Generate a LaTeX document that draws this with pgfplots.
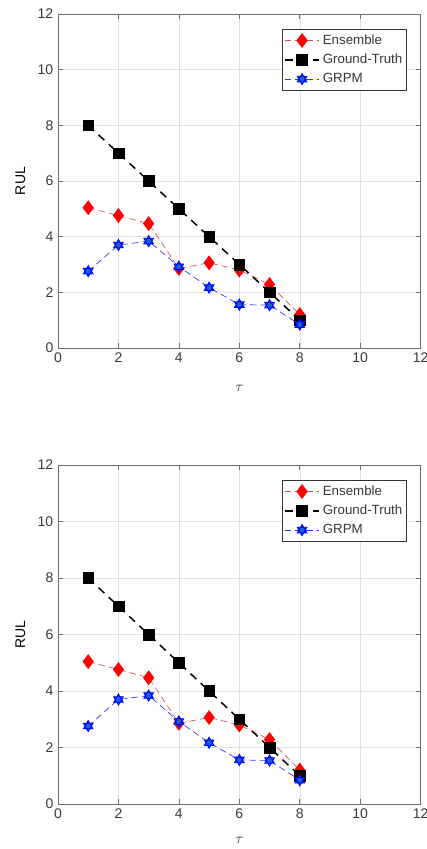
\documentclass[border=0pt]{standalone}
\usepackage{pgfplots}
\pgfplotsset{compat=1.18}
\usepackage{pgfplotstable}
\usepackage{fontspec}
\setmainfont{Liberation Sans}
\usetikzlibrary{plotmarks}

\definecolor{ensline}{RGB}{205,85,95}
\definecolor{grpmfill}{RGB}{20,100,200}
\definecolor{axgray}{RGB}{110,110,110}
\definecolor{txtgray}{RGB}{55,55,55}

% six-pointed star (two triangles), filled
\pgfdeclareplotmark{hexagram}{%
  \pgfpathmoveto{\pgfqpointpolar{90}{\pgfplotmarksize}}%
  \pgfpathlineto{\pgfqpointpolar{210}{\pgfplotmarksize}}%
  \pgfpathlineto{\pgfqpointpolar{330}{\pgfplotmarksize}}%
  \pgfpathclose
  \pgfpathmoveto{\pgfqpointpolar{270}{\pgfplotmarksize}}%
  \pgfpathlineto{\pgfqpointpolar{30}{\pgfplotmarksize}}%
  \pgfpathlineto{\pgfqpointpolar{150}{\pgfplotmarksize}}%
  \pgfpathclose
  \pgfusepathqfillstroke
}

\pgfplotstableread{
tau ens  gt grpm
1   5.04 8  2.76
2   4.76 7  3.70
3   4.47 6  3.84
4   2.86 5  2.92
5   3.06 4  2.17
6   2.80 3  1.56
7   2.28 2  1.54
8   1.20 1  0.84
}\rultable

\pgfplotsset{
  rulaxis/.style={
    scale only axis, width=272pt,
    xmin=0, xmax=12, ymin=0, ymax=12,
    xtick={0,2,...,12}, ytick={0,2,...,12},
    grid=major,
    major grid style={line width=0.4pt, black!12},
    axis line style={axgray, line width=0.6pt},
    tick style={axgray, line width=0.5pt},
    tick align=inside,
    major tick length=3.5pt,
    ticklabel style={font=\fontsize{10.5}{12}\selectfont, text=txtgray},
    /pgf/number format/assume math mode=true,
    xlabel={$\tau$},
    ylabel={RUL},
    xlabel style={at={(axis description cs:0.5,-0.122)}, anchor=center, text=txtgray, font=\fontsize{11}{12}\selectfont},
    ylabel style={at={(axis description cs:-0.104,0.5)}, anchor=center, text=black, font=\fontsize{10.5}{12}\selectfont},
    legend style={at={(1,1)}, anchor=north east, xshift=-10.5pt, yshift=-11.25pt,
      draw=black!80, line width=0.5pt, fill=white,
      font=\fontsize{10}{12}\selectfont, text=txtgray,
      inner xsep=1pt, inner ysep=2pt, row sep=1.8pt, nodes={inner sep=2pt}},
    legend cell align=left,
    legend image code/.code={\draw[mark repeat=2,mark phase=2,##1] plot coordinates {(0pt,0pt)(13pt,0pt)(26pt,0pt)};},
  },
  ensstyle/.style={ensline, line width=0.5pt, dash pattern=on 5pt off 3pt, mark=diamond*, mark size=5.25pt,
    mark options={solid, fill=red, draw=red, line width=0.4pt}},
  gtstyle/.style={black, line width=1.1pt, dash pattern=on 6pt off 4.5pt, mark=square*, mark size=4pt,
    mark options={solid, fill=black, line width=0.4pt}},
  grpmstyle/.style={blue!80, line width=0.5pt, dash pattern=on 5pt off 3pt, mark=hexagram, mark size=4.2pt,
    mark options={solid, fill=grpmfill, draw=blue, line width=0.6pt}},
}

\begin{document}
\begin{tikzpicture}
\begin{axis}[rulaxis, height=250.5pt, at={(43.5pt,-261pt)}, anchor=south west]
\addplot[ensstyle] table[x=tau,y=ens]{\rultable};
\addplot[gtstyle] table[x=tau,y=gt]{\rultable};
\addplot[grpmstyle] table[x=tau,y=grpm]{\rultable};
\legend{Ensemble, Ground-Truth, GRPM}
\end{axis}

\begin{axis}[rulaxis, height=254.25pt, at={(43.5pt,-603pt)}, anchor=south west,
  xlabel style={at={(axis description cs:0.5,-0.108)}}]
\addplot[ensstyle] table[x=tau,y=ens]{\rultable};
\addplot[gtstyle] table[x=tau,y=gt]{\rultable};
\addplot[grpmstyle] table[x=tau,y=grpm]{\rultable};
\legend{Ensemble, Ground-Truth, GRPM}
\end{axis}

\pgfresetboundingbox
\useasboundingbox (0pt,0pt) rectangle (320.25pt,-636.75pt);
\end{tikzpicture}
\end{document}
